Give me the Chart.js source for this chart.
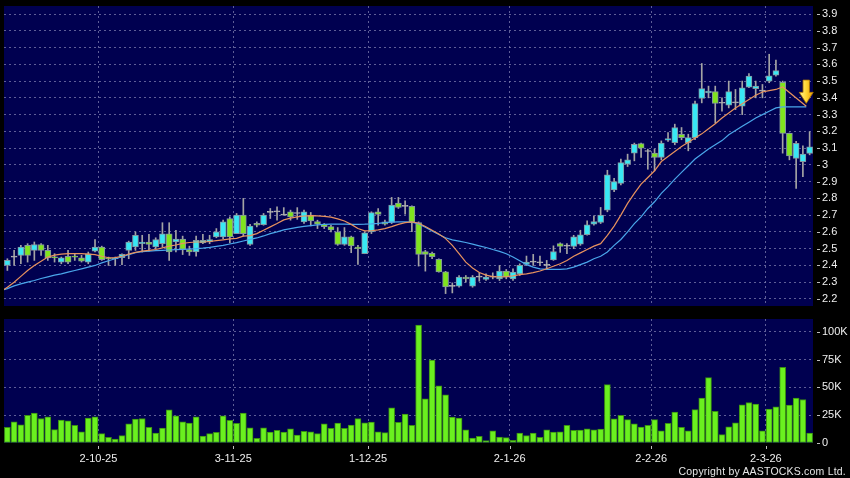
<!DOCTYPE html>
<html>
<head>
<meta charset="utf-8">
<style>
  html, body { margin: 0; padding: 0; background: #000; }
  #wrap { position: relative; width: 850px; height: 478px; background: #000; overflow: hidden; }
  #copy { position: absolute; right: 4px; top: 465px; font: 10.5px "Liberation Sans", Arial, sans-serif; color: #e6e6e6; letter-spacing: 0.2px; }
</style>
<script src="https://cdn.jsdelivr.net/npm/chart.js"></script>
</head>
<body>
<div id="wrap">
  <canvas id="priceChart" width="850" height="310" style="position:absolute;left:0;top:0"></canvas>
  <canvas id="volChart" width="850" height="168" style="position:absolute;left:0;top:310px"></canvas>
  <div id="copy">Copyright by AASTOCKS.com Ltd.</div>
</div>
<script>
// daily candles, index 0..119
const openP = [2.40,2.45,2.46,2.52,2.49,2.525,2.49,2.45,2.42,2.455,2.455,2.445,2.42,2.485,2.51,2.445,2.44,2.447,2.49,2.51,
  2.53,2.54,2.51,2.53,2.588,2.54,2.557,2.495,2.48,2.535,2.54,2.57,2.57,2.68,2.59,2.70,2.525,2.652,2.643,2.717,
  2.72,2.70,2.72,2.71,2.66,2.70,2.662,2.646,2.632,2.60,2.525,2.57,2.51,2.47,2.60,2.72,2.66,2.656,2.772,2.752,
  2.752,2.656,2.482,2.472,2.436,2.362,2.275,2.276,2.33,2.276,2.33,2.316,2.33,2.32,2.366,2.32,2.35,2.406,2.42,2.416,
  2.40,2.433,2.531,2.515,2.513,2.527,2.583,2.646,2.656,2.73,2.85,2.89,3.004,3.07,3.127,3.08,3.07,3.044,3.147,3.133,
  3.183,3.133,3.163,3.396,3.43,3.437,3.368,3.356,3.37,3.35,3.463,3.455,3.44,3.50,3.536,3.492,3.188,3.039,3.019,3.069];
const highP = [2.44,2.49,2.52,2.53,2.54,2.53,2.52,2.47,2.45,2.49,2.47,2.46,2.48,2.555,2.515,2.45,2.45,2.47,2.545,2.60,
  2.58,2.585,2.565,2.655,2.655,2.61,2.575,2.515,2.575,2.585,2.58,2.62,2.67,2.69,2.71,2.80,2.645,2.66,2.71,2.74,
  2.75,2.745,2.73,2.745,2.73,2.716,2.67,2.65,2.64,2.626,2.626,2.575,2.52,2.60,2.72,2.74,2.67,2.806,2.806,2.786,
  2.755,2.66,2.49,2.48,2.44,2.365,2.296,2.34,2.34,2.34,2.356,2.35,2.356,2.40,2.376,2.38,2.41,2.456,2.466,2.456,
  2.43,2.517,2.535,2.53,2.58,2.61,2.666,2.696,2.746,2.968,2.92,3.034,3.064,3.13,3.13,3.094,3.094,3.143,3.193,3.243,
  3.223,3.183,3.38,3.605,3.47,3.47,3.40,3.50,3.45,3.50,3.545,3.50,3.48,3.66,3.625,3.50,3.19,3.14,3.113,3.198];
const lowP = [2.37,2.40,2.41,2.42,2.43,2.46,2.43,2.42,2.41,2.41,2.43,2.42,2.41,2.48,2.43,2.40,2.40,2.405,2.44,2.49,
  2.48,2.485,2.50,2.51,2.43,2.48,2.465,2.46,2.455,2.53,2.53,2.565,2.56,2.535,2.59,2.575,2.52,2.63,2.64,2.68,
  2.67,2.70,2.67,2.675,2.65,2.636,2.62,2.62,2.60,2.52,2.52,2.476,2.406,2.47,2.59,2.64,2.64,2.65,2.74,2.706,
  2.602,2.396,2.366,2.44,2.36,2.232,2.236,2.27,2.30,2.27,2.306,2.31,2.32,2.31,2.32,2.31,2.34,2.40,2.40,2.40,
  2.38,2.43,2.478,2.47,2.50,2.52,2.58,2.64,2.65,2.72,2.84,2.88,2.99,3.024,3.044,2.974,2.964,3.03,3.14,3.12,
  3.15,3.084,3.15,3.37,3.40,3.25,3.32,3.34,3.33,3.30,3.46,3.40,3.40,3.49,3.53,3.07,3.03,2.86,2.93,3.06];
const closeP = [2.43,2.45,2.51,2.46,2.525,2.49,2.445,2.445,2.445,2.42,2.45,2.425,2.47,2.51,2.435,2.44,2.445,2.467,2.54,2.58,
  2.54,2.525,2.555,2.588,2.48,2.557,2.495,2.48,2.55,2.55,2.555,2.60,2.66,2.57,2.70,2.59,2.635,2.64,2.70,2.717,
  2.72,2.70,2.69,2.71,2.72,2.666,2.646,2.632,2.612,2.525,2.57,2.516,2.50,2.595,2.715,2.704,2.646,2.76,2.746,2.752,
  2.656,2.466,2.466,2.452,2.362,2.272,2.275,2.33,2.32,2.33,2.33,2.33,2.33,2.366,2.33,2.36,2.40,2.42,2.42,2.416,
  2.40,2.483,2.513,2.515,2.571,2.583,2.642,2.662,2.70,2.94,2.90,3.014,3.03,3.123,3.10,3.08,3.044,3.13,3.157,3.223,
  3.163,3.163,3.366,3.455,3.44,3.366,3.368,3.437,3.37,3.46,3.53,3.47,3.44,3.532,3.562,3.188,3.053,3.128,3.065,3.108];
// volume in thousands
const volK = [14,19,16.4,24.8,26.9,22,23.6,12,20.6,20,15.8,10,22.4,23.6,8.4,5,3.6,6.6,17.3,21.5,
  22,14,9,13.4,29.9,24.5,19,18,23.6,6.3,8.4,9.5,24.5,20.3,17.6,26.9,13.7,4.2,13.7,9.9,
  11.3,9.9,12.8,7.2,10.4,10.1,8.4,17.3,13.1,17.9,13.1,16.1,22,18.2,18.8,10.1,9.3,31.6,18.5,26,
  15.8,106,39.7,74.6,51.3,43.3,23.3,22.4,11.9,4.5,6,2.1,11,5.4,4.8,2.4,9,6.6,9,5.1,
  11.9,9.9,10.1,15.8,11.3,11.6,12.8,11.9,12.5,52.5,21.8,24.8,21,17.3,14.3,15.8,21,11,17.6,27.8,
  14,11,30,40.3,58.8,28.4,7.5,14.6,18.2,34.3,36.4,34.9,11,30.4,32.5,68,34,40.3,39.1,9];
// moving averages, index 0..115, with a start point at the left edge and an end point at the arrow
const maFast = [2.27,2.30,2.335,2.37,2.40,2.425,2.45,2.462,2.467,2.47,2.47,2.47,2.468,2.465,2.455,2.446,2.447,2.455,2.468,2.478,
  2.485,2.49,2.495,2.505,2.515,2.522,2.532,2.537,2.54,2.54,2.543,2.548,2.553,2.558,2.562,2.575,2.578,2.59,2.61,2.63,
  2.65,2.672,2.682,2.69,2.695,2.697,2.696,2.693,2.688,2.678,2.665,2.645,2.62,2.606,2.607,2.612,2.62,2.632,2.645,2.655,
  2.66,2.652,2.632,2.61,2.588,2.56,2.52,2.47,2.42,2.385,2.358,2.342,2.333,2.332,2.333,2.338,2.345,2.35,2.357,2.367,
  2.38,2.395,2.41,2.43,2.455,2.475,2.495,2.515,2.53,2.58,2.635,2.70,2.77,2.83,2.885,2.925,2.965,3.02,3.05,3.08,
  3.11,3.135,3.16,3.185,3.215,3.245,3.28,3.31,3.34,3.365,3.39,3.415,3.435,3.443,3.45,3.465];
const maSlow = [2.262,2.278,2.29,2.30,2.31,2.322,2.332,2.342,2.35,2.36,2.37,2.38,2.39,2.40,2.415,2.428,2.44,2.452,2.464,2.476,
  2.482,2.486,2.488,2.49,2.492,2.494,2.496,2.498,2.50,2.503,2.508,2.514,2.52,2.528,2.536,2.546,2.556,2.564,2.576,2.59,
  2.60,2.612,2.62,2.627,2.633,2.638,2.642,2.645,2.646,2.646,2.646,2.645,2.645,2.646,2.648,2.651,2.655,2.658,2.66,2.66,
  2.658,2.648,2.628,2.605,2.585,2.565,2.553,2.545,2.537,2.527,2.517,2.507,2.495,2.484,2.47,2.45,2.428,2.405,2.39,2.38,
  2.376,2.376,2.377,2.38,2.39,2.405,2.42,2.44,2.455,2.48,2.52,2.555,2.60,2.65,2.69,2.74,2.78,2.83,2.87,2.915,
  2.955,2.995,3.035,3.065,3.095,3.12,3.145,3.18,3.205,3.23,3.255,3.28,3.30,3.32,3.34,3.346];
const maHeadX = -0.5;
const maHeadFast = 2.257;
const maHeadSlow = 2.255;
const maTailX = 118.5;
const maTailFast = 3.35;
const maTailSlow = 3.346;
const arrowAt = { x: 118.5, top: 3.506, tip: 3.367 };

const priceTicks = [2.2,2.3,2.4,2.5,2.6,2.7,2.8,2.9,3.0,3.1,3.2,3.3,3.4,3.5,3.6,3.7,3.8,3.9];
const volTicks = [0, 25, 50, 75, 100];
const volTickLabels = ['0', '25K', '50K', '75K', '100K'];
const dateTicks = [13.5, 33.5, 53.5, 74.5, 95.5, 112.5];
const dateLabels = ['2-10-25', '3-11-25', '1-12-25', '2-1-26', '2-2-26', '2-3-26'];

const PANEL = '#000050';
const GRID = 'rgba(125,125,175,0.75)';
const UP = '#38e8f4';
const DOWN = '#80e41e';
const DOJI = '#b4b4b4';
const WICK = '#a4a4a4';
const TEXT = '#efefef';
const FONT = { family: '"Liberation Sans", Arial, sans-serif', size: 11 };

function candleColor(i) {
  if (closeP[i] > openP[i]) return UP;
  if (closeP[i] < openP[i]) return DOWN;
  return DOJI;
}

function maLine(head, vals, tail) {
  return [{ x: maHeadX, y: head }]
    .concat(vals.map((v, i) => ({ x: i, y: v })))
    .concat([{ x: maTailX, y: tail }]);
}

const panelBg = {
  id: 'panelBg',
  beforeDraw(chart) {
    const { ctx, chartArea: a } = chart;
    ctx.save();
    ctx.fillStyle = PANEL;
    ctx.fillRect(a.left, a.top, a.right - a.left, a.bottom - a.top);
    ctx.restore();
  }
};

// little dashes next to the axis labels
const tickDashes = {
  id: 'tickDashes',
  afterDraw(chart, args, opts) {
    const { ctx, chartArea: a } = chart;
    ctx.save();
    ctx.strokeStyle = '#bdbdbd';
    ctx.lineWidth = 1;
    const ys = chart.scales.y;
    ys.ticks.forEach(t => {
      const p = Math.round(ys.getPixelForValue(t.value)) + 0.5;
      ctx.beginPath();
      ctx.moveTo(a.right + 4, p);
      ctx.lineTo(a.right + 7, p);
      ctx.stroke();
    });
    if (opts.xAxis) {
      const xs = chart.scales.x;
      xs.ticks.forEach(t => {
        const p = Math.round(xs.getPixelForValue(t.value)) + 0.5;
        ctx.beginPath();
        ctx.moveTo(p, a.bottom + 3);
        ctx.lineTo(p, a.bottom + 6);
        ctx.stroke();
      });
    }
    ctx.restore();
  }
};

const arrowMark = {
  id: 'arrowMark',
  afterDatasetsDraw(chart) {
    const { ctx, scales: { x, y } } = chart;
    const cx = x.getPixelForValue(arrowAt.x);
    const top = y.getPixelForValue(arrowAt.top);
    const tip = y.getPixelForValue(arrowAt.tip);
    const headTop = tip - 11;
    ctx.save();
    const g = ctx.createLinearGradient(cx - 7, 0, cx + 7, 0);
    g.addColorStop(0, '#fff49a');
    g.addColorStop(0.5, '#ffd633');
    g.addColorStop(1, '#e89a00');
    ctx.beginPath();
    ctx.moveTo(cx - 3.2, top);
    ctx.lineTo(cx + 3.2, top);
    ctx.lineTo(cx + 3.2, headTop);
    ctx.lineTo(cx + 7, headTop);
    ctx.lineTo(cx, tip);
    ctx.lineTo(cx - 7, headTop);
    ctx.lineTo(cx - 3.2, headTop);
    ctx.closePath();
    ctx.fillStyle = g;
    ctx.fill();
    ctx.strokeStyle = '#b07800';
    ctx.lineWidth = 0.8;
    ctx.stroke();
    ctx.restore();
  }
};

const idx = openP.map((_, i) => i);

function dateAxis(showLabels, height) {
  return {
    type: 'linear',
    min: -0.5,
    max: 119.5,
    offset: false,
    afterBuildTicks: s => { s.ticks = dateTicks.map(v => ({ value: v })); },
    ticks: showLabels
      ? { color: TEXT, font: FONT, padding: 9, autoSkip: false, maxRotation: 0, callback: (v, i) => dateLabels[i] }
      : { display: false },
    grid: { color: GRID, drawTicks: false, offset: false },
    border: { display: false, dash: [2, 3] },
    afterFit: s => { s.height = height; s.paddingLeft = 0; s.paddingRight = 0; }
  };
}

function rightAxis(min, max, ticks, label, skipZero) {
  return {
    position: 'right',
    min,
    max,
    afterBuildTicks: s => { s.ticks = ticks.map(v => ({ value: v })); },
    ticks: { color: TEXT, font: FONT, padding: 9, callback: label },
    grid: {
      color: c => (skipZero && c.tick && c.tick.value === 0 ? 'rgba(0,0,0,0)' : GRID),
      drawTicks: false
    },
    border: { display: false, dash: [2, 3] },
    afterFit: s => { s.width = 37; s.paddingTop = 0; s.paddingBottom = 0; }
  };
}

new Chart(document.getElementById('priceChart'), {
  type: 'bar',
  data: {
    datasets: [
      {
        type: 'line',
        data: maLine(maHeadFast, maFast, maTailFast),
        borderColor: '#e8925e',
        borderWidth: 1.2,
        pointRadius: 0,
        order: 0
      },
      {
        type: 'line',
        data: maLine(maHeadSlow, maSlow, maTailSlow),
        borderColor: '#4aa6ea',
        borderWidth: 1.2,
        pointRadius: 0,
        order: 1
      },
      {
        data: idx.map(i => ({ x: i, y: [openP[i], closeP[i]] })),
        backgroundColor: idx.map(candleColor),
        borderColor: idx.map(i => closeP[i] === openP[i] ? DOJI : '#8496a0'),
        borderWidth: 1,
        borderSkipped: false,
        barThickness: 6,
        minBarLength: 1,
        grouped: false,
        order: 2
      },
      {
        data: idx.map(i => ({ x: i, y: [lowP[i], highP[i]] })),
        backgroundColor: WICK,
        borderWidth: 0,
        barThickness: 1,
        grouped: false,
        order: 3
      }
    ]
  },
  options: {
    responsive: false,
    animation: false,
    events: [],
    layout: { padding: { left: 4, top: 6, right: 0, bottom: 0 } },
    plugins: { legend: { display: false }, tooltip: { enabled: false }, tickDashes: { xAxis: false } },
    scales: {
      x: dateAxis(false, 4),
      y: rightAxis(2.158, 3.948, priceTicks, v => String(Number(v.toFixed(1))), false)
    }
  },
  plugins: [panelBg, tickDashes, arrowMark]
});

new Chart(document.getElementById('volChart'), {
  type: 'bar',
  data: {
    datasets: [{
      data: volK.map((v, i) => ({ x: i, y: v })),
      backgroundColor: '#6af01f',
      borderColor: '#3b8f12',
      borderWidth: 1,
      borderSkipped: false,
      barThickness: 6
    }]
  },
  options: {
    responsive: false,
    animation: false,
    events: [],
    layout: { padding: { left: 4, top: 9, right: 0, bottom: 0 } },
    plugins: { legend: { display: false }, tooltip: { enabled: false }, tickDashes: { xAxis: true } },
    scales: {
      x: dateAxis(true, 35),
      y: rightAxis(0, 111.4, volTicks, (v, i) => volTickLabels[i], true)
    }
  },
  plugins: [panelBg, tickDashes]
});
</script>
</body>
</html>
